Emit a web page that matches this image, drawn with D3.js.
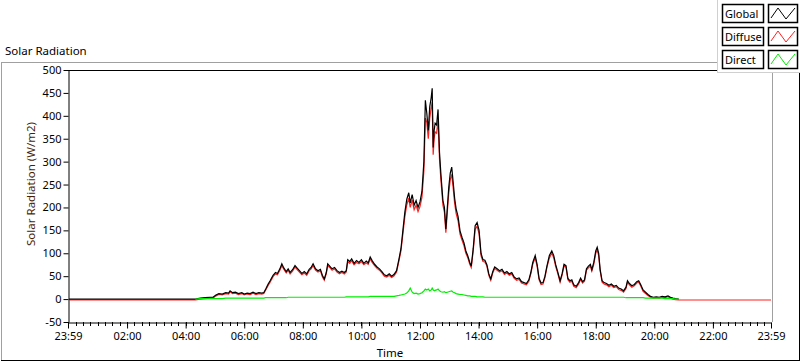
<!DOCTYPE html>
<html>
<head>
<meta charset="utf-8">
<script src="https://d3js.org/d3.v7.min.js"></script>
<style>
  body { margin: 0; background: #fff; }
  svg { display: block; font-family: "Noto Sans", sans-serif; }
</style>
</head>
<body>
<div id="chart"></div>
<script>
// time of each sample (HH:MM)
const times = [
  "00:00","04:20","04:30","04:40","04:50","04:56","05:02","05:08","05:15","05:22","05:28","05:31","05:36","05:42","05:48","05:55",
  "06:00","06:06","06:12","06:18","06:24","06:30","06:36","06:40","06:44","06:49","06:53","06:59","07:04","07:08","07:13","07:17",
  "07:21","07:26","07:30","07:34","07:39","07:44","07:48","07:53","07:58","08:03","08:08","08:13","08:17","08:21","08:26","08:31",
  "08:36","08:40","08:44","08:48","08:51","08:55","09:00","09:05","09:10","09:15","09:20","09:25","09:29","09:32","09:36","09:40",
  "09:45","09:50","09:55","10:00","10:05","10:10","10:14","10:18","10:22","10:27","10:32","10:37","10:42","10:47","10:52","10:57",
  "11:02","11:07","11:12","11:17","11:21","11:25","11:29","11:33","11:37","11:40","11:44","11:48","11:52","11:56","12:00","12:04",
  "12:08","12:11","12:14","12:17","12:20","12:23","12:25","12:27","12:29","12:31","12:34","12:37","12:40","12:43","12:47","12:50",
  "12:53","12:56","12:59","13:02","13:05","13:08","13:11","13:14","13:18","13:22","13:26","13:30","13:34","13:38","13:42","13:45",
  "13:49","13:53","13:57","14:01","14:05","14:09","14:13","14:17","14:21","14:25","14:29","14:33","14:38","14:43","14:48","14:53",
  "14:58","15:03","15:08","15:13","15:18","15:23","15:28","15:33","15:38","15:43","15:47","15:51","15:56","16:00","16:04","16:08",
  "16:12","16:16","16:20","16:25","16:30","16:34","16:38","16:42","16:47","16:51","16:55","16:59","17:03","17:07","17:11","17:15",
  "17:20","17:25","17:29","17:33","17:37","17:41","17:45","17:49","17:52","17:56","18:00","18:03","18:06","18:09","18:13","18:17",
  "18:22","18:27","18:32","18:37","18:42","18:47","18:52","18:57","19:02","19:05","19:09","19:14","19:19","19:24","19:28","19:32",
  "19:37","19:42","19:47","19:52","19:58","20:04","20:10","20:16","20:22","20:28","20:33","20:38","20:43","20:50","23:59"
];

// null = no sample drawn
const globalValues = [
  0,0,2,3,4,4,9,12,11,14,13,18,14,15,12,14,
  11,13,12,15,12,14,13,14,22,33,40,52,58,56,66,77,
  68,60,66,58,64,73,68,62,56,60,55,65,69,77,66,62,
  65,52,44,58,77,72,66,69,62,58,61,58,62,86,82,88,
  78,84,80,86,78,83,79,92,84,76,70,66,60,53,51,55,
  50,54,62,88,110,150,190,218,232,210,228,205,215,200,212,235,
  300,434,405,368,420,440,460,331,368,384,380,414,320,270,215,200,
  153,200,245,275,288,255,220,197,180,149,135,123,105,94,80,72,
  110,160,167,150,100,86,85,75,55,44,60,70,66,62,65,57,
  60,55,58,48,44,46,38,36,34,42,58,80,95,75,45,35,
  36,50,72,95,105,95,75,60,40,55,76,73,45,40,42,31,
  28,36,46,38,42,66,72,76,64,80,105,113,100,65,40,36,
  34,30,33,28,30,24,22,18,26,40,34,29,32,38,40,32,
  20,15,10,6,4,5,4,6,5,7,4,2,1,0,null
];

const diffuseValues = [
  -2,-2,0,1,2,2,7,10,9,12,11,16,12,13,10,12,
  9,11,10,13,10,12,11,12,20,30,37,49,55,53,63,73,
  65,57,63,55,61,70,65,59,53,57,52,62,66,73,63,59,
  62,49,41,55,73,69,63,66,59,55,58,55,59,82,78,84,
  75,80,77,82,75,79,76,88,80,73,67,63,57,50,48,52,
  47,51,59,84,105,143,180,206,220,200,216,195,205,191,202,222,
  280,395,385,350,395,418,430,315,350,365,362,390,305,258,205,190,
  145,190,232,260,272,242,209,187,171,142,129,117,100,90,76,69,
  105,152,159,143,95,82,81,72,52,41,57,67,63,59,62,54,
  57,52,55,45,41,43,35,33,31,39,55,76,90,71,42,32,
  33,47,69,90,100,90,71,57,37,52,72,70,42,37,39,28,
  25,33,43,35,39,63,68,72,61,76,100,107,95,62,37,33,
  31,27,30,25,27,21,19,15,23,37,31,26,29,35,37,29,
  17,12,8,4,2,3,2,4,3,5,2,0,-1,-2,-2
];

const directValues = [
  null,0,1,1,1,1,1,1,1,2,2,2,2,2,2,2,
  2,2,2,2,2,2,2,2,3,3,3,3,3,3,3,3,
  3,3,4,4,4,4,4,4,4,4,4,4,4,4,4,4,
  4,4,4,4,4,4,4,4,4,4,4,4,5,5,5,5,
  5,5,5,5,5,5,5,6,6,6,6,6,6,6,6,6,
  6,6,7,8,9,10,11,13,18,24,15,12,13,11,12,14,
  18,22,20,22,18,20,24,20,18,19,20,22,18,16,15,16,
  14,15,16,17,18,15,14,12,11,10,10,9,8,7,7,6,
  6,6,5,5,5,5,4,4,4,4,4,4,4,4,4,4,
  4,4,4,4,4,4,4,4,4,4,4,4,4,4,4,4,
  4,4,4,4,4,4,4,4,4,4,4,4,4,4,4,4,
  4,4,4,4,4,4,4,4,4,4,4,4,4,4,4,4,
  4,4,4,4,4,4,4,4,3,3,3,3,3,3,3,3,
  3,2,2,2,2,2,2,2,1,1,1,1,0,0,null
];

const yTicks = [-50, 0, 50, 100, 150, 200, 250, 300, 350, 400, 450, 500];
const xTickLabels = ["23:59","02:00","04:00","06:00","08:00","10:00","12:00","14:00","16:00","18:00","20:00","22:00","23:59"];

const seriesNames = ["Global", "Diffuse", "Direct"];
const seriesColors = ["#000000", "#ff2020", "#00ee00"];

const W = 800, H = 361;
const plot = {left: 68, right: 771, top: 70, bottom: 322};

const svg = d3.select("#chart").append("svg")
  .attr("width", W).attr("height", H);

const parse = d3.timeParse("%Y-%m-%d %H:%M");
const day = s => parse("2000-01-02 " + s);
const start = parse("2000-01-01 23:59");
const end = day("23:59");

const x = d3.scaleTime().domain([start, end]).range([plot.left, plot.right]);
const y = d3.scaleLinear().domain([-50, 500]).range([plot.bottom, plot.top]);

// outer panel frame (sunken look)
svg.append("line").attr("x1", 1).attr("x2", 717).attr("y1", 62.5).attr("y2", 62.5).attr("stroke", "#a0a0a0");
svg.append("line").attr("x1", 1.5).attr("x2", 1.5).attr("y1", 62).attr("y2", 361).attr("stroke", "#a0a0a0");
svg.append("line").attr("x1", 1).attr("x2", 800).attr("y1", 360.5).attr("y2", 360.5).attr("stroke", "#000");
svg.append("line").attr("x1", 799.5).attr("x2", 799.5).attr("y1", 72).attr("y2", 361).attr("stroke", "#000");

svg.append("text").attr("x", 5).attr("y", 55)
  .attr("font-size", 11.5).attr("fill", "#000").text("Solar Radiation");

// plot frame
svg.append("line").attr("x1", plot.left).attr("x2", plot.right + 1.5).attr("y1", plot.top + 0.5).attr("y2", plot.top + 0.5).attr("stroke", "#000");
svg.append("line").attr("x1", plot.right + 1.5).attr("x2", plot.right + 1.5).attr("y1", plot.top).attr("y2", plot.bottom).attr("stroke", "#a0a0a0");

// y axis
const yAxis = svg.append("g")
  .attr("transform", `translate(${plot.left + 0.5},0)`)
  .call(d3.axisLeft(y).tickValues(yTicks).tickSize(5).tickSizeOuter(0).tickPadding(2)
    .tickFormat(d => String(d)));
yAxis.select(".domain").attr("stroke", "#000");
yAxis.selectAll("text").attr("font-size", 11).attr("font-family", "Noto Sans").attr("fill", "#000");

// x axis: minor ticks every 15 min, majors every 2 h
const minor = d3.timeMinute.every(15).range(day("00:00"), end);
svg.append("g").selectAll("line").data(minor).join("line")
  .attr("x1", d => Math.round(x(d)) + 0.5).attr("x2", d => Math.round(x(d)) + 0.5)
  .attr("y1", plot.bottom).attr("y2", plot.bottom + 4).attr("stroke", "#000");

const majors = xTickLabels.map((s, i) => i === 0 ? start : day(s));
const xAxis = svg.append("g")
  .attr("transform", `translate(0,${plot.bottom + 0.5})`)
  .call(d3.axisBottom(x).tickValues(majors).tickSize(6).tickSizeOuter(0).tickPadding(4)
    .tickFormat((d, i) => xTickLabels[i]));
xAxis.select(".domain").attr("stroke", "#000");
xAxis.selectAll("text").attr("font-size", 11).attr("font-family", "Noto Sans").attr("fill", "#000");

svg.append("text").attr("x", 390).attr("y", 357).attr("text-anchor", "middle")
  .attr("font-size", 11.5).attr("fill", "#000").text("Time");
svg.append("text").attr("transform", "translate(35,184) rotate(-90)")
  .attr("text-anchor", "middle").attr("font-size", 11.5).attr("fill", "#4a1f08")
  .text("Solar Radiation (W/m2)");

// data lines: diffuse under global, direct on top
const rows = times.map((t, i) => ({
  t: day(t), g: globalValues[i], d: diffuseValues[i], r: directValues[i]
}));
svg.append("clipPath").attr("id", "clip").append("rect")
  .attr("x", plot.left + 1).attr("y", plot.top + 1)
  .attr("width", plot.right - plot.left).attr("height", plot.bottom - plot.top - 1);
const lines = svg.append("g").attr("clip-path", "url(#clip)");
const colorOf = {g: seriesColors[0], d: seriesColors[1], r: seriesColors[2]};
["d", "g", "r"].forEach(k => {
  lines.append("path").datum(rows)
    .attr("fill", "none")
    .attr("stroke", colorOf[k])
    .attr("stroke-width", 1.2)
    .attr("d", d3.line().defined(d => d[k] !== null).x(d => x(d.t)).y(d => y(d[k])));
});

// legend
const legend = svg.append("g");
legend.append("rect").attr("x", 717.5).attr("y", -1).attr("width", 84).attr("height", 73.5)
  .attr("fill", "#fff").attr("stroke", "#d0d0d0");
seriesNames.forEach((name, i) => {
  const top = 4 + i * 23;
  legend.append("rect").attr("x", 722.5).attr("y", top + 0.5).attr("width", 41).attr("height", 18)
    .attr("fill", "#fff").attr("stroke", "#000").attr("stroke-width", 1.5);
  legend.append("text").attr("x", 725).attr("y", top + 14).attr("font-size", 11)
    .attr("fill", "#000").text(name);
  legend.append("rect").attr("x", 768.5).attr("y", top + 0.5).attr("width", 29).attr("height", 18)
    .attr("fill", "#fff").attr("stroke", "#000").attr("stroke-width", 1.5);
  legend.append("path")
    .attr("d", d3.line()([[771, top + 14], [778, top + 4], [786, top + 15], [795, top + 4]]))
    .attr("fill", "none").attr("stroke", seriesColors[i]).attr("stroke-width", 1);
});
</script>
</body>
</html>
